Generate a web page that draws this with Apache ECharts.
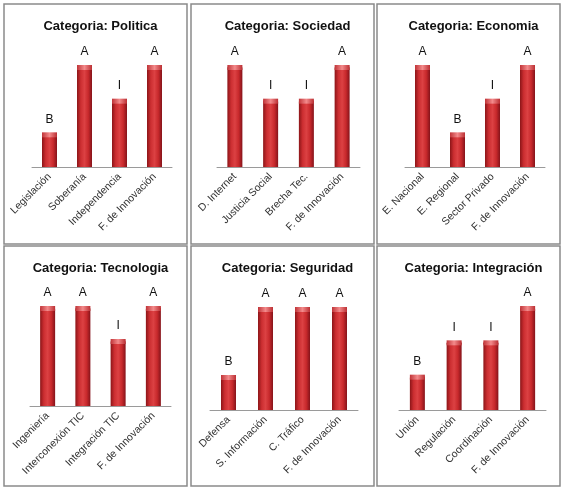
<!DOCTYPE html>
<html>
<head>
<meta charset="utf-8">
<script src="https://cdn.jsdelivr.net/npm/echarts@6/dist/echarts.min.js"></script>
<style>
html,body{margin:0;padding:0;background:#fff;}
#c{width:566px;height:488px;}
</style>
</head>
<body>
<div id="c"></div>
<script>
// ---- data ----
const panelTitles = ['Categoria: Politica', 'Categoria: Sociedad', 'Categoria: Economia',
                     'Categoria: Tecnologia', 'Categoria: Seguridad', 'Categoria: Integración'];
const politicaCats = ['Legislación', 'Soberanía', 'Independencia', 'F. de Innovación'];
const politicaVals = [1, 3, 2, 3];
const politicaGrades = ['B', 'A', 'I', 'A'];
const sociedadCats = ['D. Internet', 'Justicia Social', 'Brecha Tec.', 'F. de Innovación'];
const sociedadVals = [3, 2, 2, 3];
const sociedadGrades = ['A', 'I', 'I', 'A'];
const economiaCats = ['E. Nacional', 'E. Regional', 'Sector Privado', 'F. de Innovación'];
const economiaVals = [3, 1, 2, 3];
const economiaGrades = ['A', 'B', 'I', 'A'];
const tecnologiaCats = ['Ingeniería', 'Interconexión TIC', 'Integración TIC', 'F. de Innovación'];
const tecnologiaVals = [3, 3, 2, 3];
const tecnologiaGrades = ['A', 'A', 'I', 'A'];
const seguridadCats = ['Defensa', 'S. Información', 'C. Tráfico', 'F. de Innovación'];
const seguridadVals = [1, 3, 3, 3];
const seguridadGrades = ['B', 'A', 'A', 'A'];
const integracionCats = ['Unión', 'Regulación', 'Coordinación', 'F. de Innovación'];
const integracionVals = [1, 2, 2, 3];
const integracionGrades = ['B', 'I', 'I', 'A'];
const yMax = 3;

const cats = [politicaCats, sociedadCats, economiaCats, tecnologiaCats, seguridadCats, integracionCats];
const vals = [politicaVals, sociedadVals, economiaVals, tecnologiaVals, seguridadVals, integracionVals];
const grades = [politicaGrades, sociedadGrades, economiaGrades, tecnologiaGrades, seguridadGrades, integracionGrades];

// ---- layout ----
const panels = [[4,4,183,240],[191,4,183,240],[377,4,183,240],[4,246,183,240],[191,246,183,240],[377,246,183,240]];
const grids = [[32,66,140,101],[217,66,143,101],[405,66,140,101],[30,307,141,99],[210,308,148,102],[399,307,147,103]];
const FONT = '"Liberation Sans", Arial, sans-serif';

const barColor = new echarts.graphic.LinearGradient(0,0,1,0,[
  {offset:0, color:'#8c1518'},
  {offset:0.25, color:'#cc2e31'},
  {offset:0.5, color:'#dc4143'},
  {offset:0.75, color:'#c8292c'},
  {offset:1, color:'#85131a'}
]);
const capColor = new echarts.graphic.LinearGradient(0,0,1,0,[
  {offset:0, color:'#c03438'},
  {offset:0.5, color:'#f38a8b'},
  {offset:1, color:'#bb2f33'}
]);

const option = {
  animation:false,
  backgroundColor:'#fff',
  title:[], grid:[], xAxis:[], yAxis:[], series:[],
  graphic: panels.map(p => ({
    type:'rect', shape:{x:p[0], y:p[1], width:p[2], height:p[3]},
    style:{fill:'#fff', stroke:'#8a8a8a', lineWidth:1.5}, z:-10, silent:true
  }))
};

for (let i=0;i<6;i++){
  const p = panels[i], g = grids[i];
  option.title.push({
    text: panelTitles[i], left: p[0] + p[2]/2, top: p[1] + 11, textAlign:'center',
    textStyle:{fontFamily:FONT, fontSize:13, fontWeight:'bold', color:'#111'}
  });
  option.grid.push({left:g[0], top:g[1], width:g[2], height:g[3]});
  option.xAxis.push({
    type:'category', gridIndex:i, data:cats[i],
    axisLine:{lineStyle:{color:'#9a9a9a', width:1}},
    axisTick:{show:false},
    axisLabel:{rotate:45, interval:0, margin:8, fontFamily:FONT, fontSize:10.5, color:'#333'}
  });
  option.yAxis.push({type:'value', gridIndex:i, min:0, max:yMax, show:false, splitLine:{show:false}});
  option.series.push({
    type:'bar', xAxisIndex:i, yAxisIndex:i, data:vals[i], barWidth:15,
    itemStyle:{color:barColor, borderRadius:[2,2,0,0]},
    label:{show:true, position:'top', distance:8, fontFamily:FONT, fontSize:12, color:'#111',
      formatter:(pp)=>grades[i][pp.dataIndex]}
  });
  option.series.push({
    type:'pictorialBar', xAxisIndex:i, yAxisIndex:i, data:vals[i],
    symbol:'ellipse', symbolSize:[15,5], symbolPosition:'end', symbolOffset:[0,'-20%'],
    itemStyle:{color:capColor}, z:3, silent:true
  });
}

const chart = echarts.init(document.getElementById('c'), null, {renderer:'canvas'});
chart.setOption(option);
</script>
</body>
</html>
